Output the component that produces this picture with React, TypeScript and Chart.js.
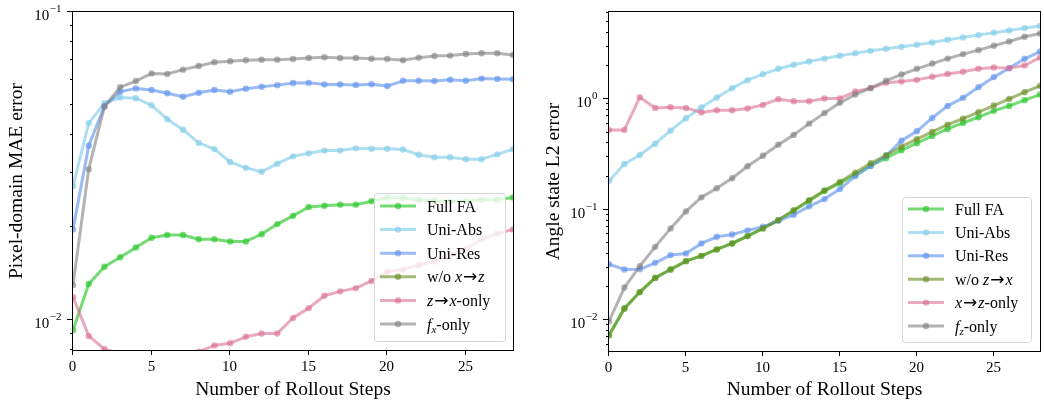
import React, { useEffect, useRef } from "react";
import { Chart, registerables } from "chart.js";

Chart.register(...registerables);

// ---------------- data ----------------
const steps = [0, 1, 2, 3, 4, 5, 6, 7, 8, 9, 10, 11, 12, 13, 14, 15, 16, 17, 18, 19, 20, 21, 22, 23, 24, 25, 26, 27, 28];

// Left panel: Pixel-domain MAE error
const pixFullFA = [0.00928, 0.0131, 0.0149, 0.016, 0.0172, 0.0185, 0.0189, 0.0189, 0.0183, 0.0183, 0.018, 0.018, 0.019, 0.0205, 0.0218, 0.0233, 0.0235, 0.0237, 0.0237, 0.0243, 0.025, 0.0249, 0.0246, 0.0244, 0.0243, 0.0243, 0.0246, 0.0246, 0.025];
const pixUniAbs = [0.0272, 0.0436, 0.0506, 0.0528, 0.0525, 0.0498, 0.0449, 0.0415, 0.0376, 0.0359, 0.0326, 0.0312, 0.0303, 0.0322, 0.034, 0.0348, 0.0355, 0.0355, 0.0361, 0.036, 0.036, 0.0358, 0.0344, 0.0338, 0.0338, 0.0333, 0.0333, 0.0345, 0.0359];
const pixUniRes = [0.0197, 0.0368, 0.0495, 0.0551, 0.0565, 0.0558, 0.0545, 0.0531, 0.0547, 0.0558, 0.0551, 0.0564, 0.0572, 0.0579, 0.0588, 0.0589, 0.0582, 0.0582, 0.058, 0.0583, 0.0575, 0.0598, 0.0598, 0.0597, 0.0603, 0.0598, 0.0608, 0.0606, 0.0605];
const pixWoXZ: (number | null)[] = [null, null, null, null, null, null, null, null, null, null, null, null, null, null, null, null, null, null, null, null, null, null, null, null, null, null, null, null, null];
const pixZXOnly = [0.0119, 0.00889, 0.00805, 0.0078, 0.0076, 0.0075, 0.0075, 0.0076, 0.0079, 0.00828, 0.00842, 0.00883, 0.00905, 0.00905, 0.01017, 0.01094, 0.012, 0.0124, 0.0127, 0.0134, 0.01436, 0.0146, 0.0151, 0.0155, 0.0163, 0.017, 0.0183, 0.0191, 0.0197];
const pixFxOnly = [0.013, 0.0309, 0.0493, 0.057, 0.0597, 0.0632, 0.0629, 0.065, 0.0668, 0.0687, 0.0692, 0.0697, 0.07, 0.07, 0.0704, 0.0709, 0.0713, 0.0709, 0.0709, 0.0705, 0.0704, 0.0697, 0.0711, 0.072, 0.0722, 0.0731, 0.0735, 0.0735, 0.0725];

// Right panel: Angle state L2 error
const angFullFA = [0.0073, 0.0128, 0.018, 0.0242, 0.0288, 0.0343, 0.0383, 0.0438, 0.0496, 0.0578, 0.0679, 0.0807, 0.098, 0.121, 0.148, 0.174, 0.207, 0.251, 0.293, 0.346, 0.401, 0.467, 0.54, 0.612, 0.689, 0.787, 0.873, 0.983, 1.106];
const angUniAbs = [0.182, 0.26, 0.314, 0.397, 0.521, 0.675, 0.843, 1.039, 1.263, 1.493, 1.692, 1.891, 2.055, 2.2, 2.34, 2.48, 2.62, 2.75, 2.87, 2.99, 3.12, 3.27, 3.46, 3.64, 3.82, 4.01, 4.21, 4.42, 4.61];
const angUniRes = [0.0322, 0.0288, 0.0289, 0.0331, 0.0389, 0.0403, 0.0496, 0.057, 0.0598, 0.0651, 0.0702, 0.0796, 0.0902, 0.1075, 0.125, 0.154, 0.202, 0.249, 0.309, 0.423, 0.514, 0.679, 0.873, 1.032, 1.29, 1.59, 1.918, 2.33, 2.71];
const angWoZX = [0.0073, 0.0128, 0.018, 0.0242, 0.0288, 0.0343, 0.0383, 0.0438, 0.0496, 0.0578, 0.0679, 0.0807, 0.099, 0.122, 0.15, 0.179, 0.217, 0.264, 0.312, 0.373, 0.436, 0.507, 0.591, 0.67, 0.765, 0.879, 1.01, 1.162, 1.326];
const angXZOnly = [0.529, 0.529, 1.047, 0.837, 0.849, 0.837, 0.76, 0.798, 0.798, 0.826, 0.891, 1.004, 0.962, 0.962, 1.017, 1.02, 1.177, 1.263, 1.411, 1.451, 1.502, 1.6, 1.7, 1.776, 1.891, 1.944, 1.918, 2.026, 2.39];
const angFzOnly = [0.0098, 0.0198, 0.0309, 0.0462, 0.0679, 0.0968, 0.1297, 0.157, 0.193, 0.248, 0.309, 0.389, 0.477, 0.603, 0.754, 0.93, 1.106, 1.271, 1.472, 1.68, 1.891, 2.11, 2.34, 2.57, 2.79, 3.06, 3.34, 3.69, 3.95];

// ticks
const xTicks = [0, 5, 10, 15, 20, 25];
const leftYMajor = [0.01, 0.1];
const leftYMajorExp = ["\u22122", "\u22121"];
const leftYMinor = [0.008, 0.009, 0.02, 0.03, 0.04, 0.05, 0.06, 0.07, 0.08, 0.09];
const rightYMajor = [0.01, 0.1, 1];
const rightYMajorExp = ["\u22122", "\u22121", "0"];
const rightYMinor = [0.006, 0.007, 0.008, 0.009, 0.02, 0.03, 0.04, 0.05, 0.06, 0.07, 0.08, 0.09, 0.2, 0.3, 0.4, 0.5, 0.6, 0.7, 0.8, 0.9, 2, 3, 4, 5, 6];

// titles
const xTitle = "Number of Rollout Steps";
const leftYTitle = "Pixel-domain MAE error";
const rightYTitle = "Angle state L2 error";

// legend labels (segments: plain / italic / italic subscript / arrow)
type Seg = { t: string; it?: boolean; sub?: boolean; arrow?: boolean };
const AR: Seg = { t: "\u2192", arrow: true };
const leftLabels: Seg[][] = [
  [{ t: "Full FA" }],
  [{ t: "Uni-Abs" }],
  [{ t: "Uni-Res" }],
  [{ t: "w/o " }, { t: "x", it: true }, AR, { t: "z", it: true }],
  [{ t: "z", it: true }, AR, { t: "x", it: true }, { t: "-only" }],
  [{ t: "f", it: true }, { t: "x", it: true, sub: true }, { t: "-only" }],
];
const rightLabels: Seg[][] = [
  [{ t: "Full FA" }],
  [{ t: "Uni-Abs" }],
  [{ t: "Uni-Res" }],
  [{ t: "w/o " }, { t: "z", it: true }, AR, { t: "x", it: true }],
  [{ t: "x", it: true }, AR, { t: "z", it: true }, { t: "-only" }],
  [{ t: "f", it: true }, { t: "z", it: true, sub: true }, { t: "-only" }],
];

// ---------------- styles ----------------
const COLORS = [
  "rgba(50,200,50,0.68)",
  "rgba(135,206,235,0.68)",
  "rgba(100,149,237,0.65)",
  "rgba(107,142,35,0.62)",
  "rgba(219,112,147,0.6)",
  "rgba(128,128,128,0.6)",
];
const FONT = '"Liberation Serif", "Times New Roman", "DejaVu Serif", serif';

type PanelSpec = {
  series: (number | null)[][];
  labels: Seg[][];
  yMin: number;
  yMax: number;
  yMajor: number[];
  yMajorExp: string[];
  yMinor: number[];
  yTitle: string;
  yTitleX: number;
  padding: { left: number; right: number; top: number; bottom: number };
  legend: { width: number; height: number; right: number; bottom: number; first: number; spacing: number };
};

function drawSegs(ctx: CanvasRenderingContext2D, segs: Seg[], x: number, y: number) {
  let cx = x;
  for (const s of segs) {
    if (s.arrow) {
      ctx.font = `17px "DejaVu Sans", sans-serif`;
      cx += 1;
      ctx.fillText(s.t, cx, y);
      cx += ctx.measureText(s.t).width + 1;
      continue;
    }
    const size = s.sub ? 11 : 16;
    ctx.font = `${s.it ? "italic " : ""}${size}px ${FONT}`;
    ctx.fillText(s.t, cx, y + (s.sub ? 3 : 0));
    cx += ctx.measureText(s.t).width;
  }
}

function makePlugin(spec: PanelSpec) {
  return {
    id: "mplAxes",
    afterDraw(chart: any) {
      const ctx: CanvasRenderingContext2D = chart.ctx;
      const a = chart.chartArea;
      const xs = chart.scales.x;
      const ys = chart.scales.y;
      ctx.save();
      ctx.strokeStyle = "#000";
      ctx.fillStyle = "#000";
      ctx.lineWidth = 1;
      // frame
      ctx.strokeRect(Math.round(a.left) - 0.5, Math.round(a.top) - 0.5, Math.round(a.right - a.left) + 1, Math.round(a.bottom - a.top) + 1);
      // x ticks
      ctx.font = `15px ${FONT}`;
      ctx.textAlign = "center";
      ctx.textBaseline = "alphabetic";
      for (const v of xTicks) {
        const px = Math.round(xs.getPixelForValue(v)) - 0.5;
        ctx.beginPath();
        ctx.moveTo(px, a.bottom);
        ctx.lineTo(px, a.bottom + 5);
        ctx.stroke();
        ctx.fillText(String(v), px, a.bottom + 21);
      }
      // y minor ticks
      for (const v of spec.yMinor) {
        const py = Math.round(ys.getPixelForValue(v)) - 0.5;
        ctx.beginPath();
        ctx.moveTo(a.left - 3, py);
        ctx.lineTo(a.left, py);
        ctx.stroke();
      }
      // y major ticks + labels
      spec.yMajor.forEach((v, i) => {
        const py = Math.round(ys.getPixelForValue(v)) - 0.5;
        ctx.beginPath();
        ctx.moveTo(a.left - 6, py);
        ctx.lineTo(a.left, py);
        ctx.stroke();
        const exp = spec.yMajorExp[i];
        ctx.textAlign = "left";
        ctx.font = `11px ${FONT}`;
        const ew = ctx.measureText(exp).width;
        ctx.font = `15px ${FONT}`;
        const bw = ctx.measureText("10").width;
        const right = a.left - 12;
        const x0 = right - ew - bw;
        ctx.fillText("10", x0, py + 8);
        ctx.font = `11px ${FONT}`;
        ctx.fillText(exp, x0 + bw + 0.5, py);
      });
      // x title
      ctx.font = `19.5px ${FONT}`;
      ctx.textAlign = "center";
      ctx.fillText(xTitle, (a.left + a.right) / 2, 395);
      // y title
      ctx.save();
      ctx.translate(spec.yTitleX, (a.top + a.bottom) / 2);
      ctx.rotate(-Math.PI / 2);
      ctx.fillText(spec.yTitle, 0, 0);
      ctx.restore();
      // legend
      const L = spec.legend;
      const bx = a.right - L.right - L.width;
      const by = a.bottom - L.bottom - L.height;
      ctx.beginPath();
      if ((ctx as any).roundRect) (ctx as any).roundRect(bx + 0.5, by + 0.5, L.width, L.height, 3);
      else ctx.rect(bx + 0.5, by + 0.5, L.width, L.height);
      ctx.fillStyle = "rgba(255,255,255,0.8)";
      ctx.fill();
      ctx.strokeStyle = "#d6d6d6";
      ctx.stroke();
      ctx.textAlign = "left";
      spec.labels.forEach((segs, i) => {
        const cy = by + L.first + i * L.spacing;
        ctx.strokeStyle = COLORS[i];
        ctx.lineWidth = 3;
        ctx.beginPath();
        ctx.moveTo(bx + 6, cy);
        ctx.lineTo(bx + 42, cy);
        ctx.stroke();
        ctx.fillStyle = COLORS[i];
        ctx.beginPath();
        ctx.arc(bx + 24, cy, 3.2, 0, Math.PI * 2);
        ctx.fill();
        ctx.fillStyle = "#000";
        drawSegs(ctx, segs, bx + 53, cy + 5.5);
      });
      ctx.restore();
    },
  };
}

const leftSpec: PanelSpec = {
  series: [pixFullFA, pixUniAbs, pixUniRes, pixWoXZ, pixZXOnly, pixFxOnly],
  labels: leftLabels,
  yMin: 0.008,
  yMax: 0.1,
  yMajor: leftYMajor,
  yMajorExp: leftYMajorExp,
  yMinor: leftYMinor,
  yTitle: leftYTitle,
  yTitleX: 22,
  padding: { left: 73, right: 12, top: 12, bottom: 53 },
  legend: { width: 131, height: 148, right: 8, bottom: 9, first: 13, spacing: 23.6 },
};

const rightSpec: PanelSpec = {
  series: [angFullFA, angUniAbs, angUniRes, angWoZX, angXZOnly, angFzOnly],
  labels: rightLabels,
  yMin: 0.00527,
  yMax: 6.18,
  yMajor: rightYMajor,
  yMajorExp: rightYMajorExp,
  yMinor: rightYMinor,
  yTitle: rightYTitle,
  yTitleX: 34,
  padding: { left: 84, right: 2, top: 12, bottom: 52 },
  legend: { width: 129, height: 145, right: 9, bottom: 9, first: 12, spacing: 23.4 },
};

function Panel({ spec, left, width }: { spec: PanelSpec; left: number; width: number }) {
  const ref = useRef<HTMLCanvasElement | null>(null);
  useEffect(() => {
    if (!ref.current) return;
    const n = spec.series.length;
    const chart = new Chart(ref.current, {
      type: "line",
      data: {
        datasets: spec.series.map((vals, i) => ({
          label: spec.labels[i].map((s) => s.t).join(""),
          data: steps.map((x, j) => ({ x, y: vals[j] })),
          borderColor: COLORS[i],
          backgroundColor: COLORS[i],
          pointBackgroundColor: COLORS[i],
          pointBorderWidth: 0,
          pointRadius: 3.2,
          borderWidth: 3,
          borderJoinStyle: "round",
          tension: 0,
          clip: 0,
          order: n - i,
          fill: false,
        })),
      } as any,
      options: {
        responsive: false,
        animation: false,
        devicePixelRatio: 1,
        events: [],
        layout: { padding: spec.padding },
        scales: {
          x: { type: "linear", min: 0, max: 28, display: false },
          y: { type: "logarithmic", min: spec.yMin, max: spec.yMax, display: false },
        },
        plugins: { legend: { display: false }, tooltip: { enabled: false } },
      } as any,
      plugins: [makePlugin(spec)],
    });
    return () => chart.destroy();
  }, [spec]);
  return (
    <canvas
      ref={ref}
      width={width}
      height={403}
      style={{ position: "absolute", left, top: 0, width, height: 403 }}
    />
  );
}

export default function App() {
  return (
    <div style={{ position: "absolute", left: 0, top: 0, width: 1044, height: 403, background: "#fff" }}>
      <Panel spec={leftSpec} left={0} width={525} />
      <Panel spec={rightSpec} left={525} width={519} />
    </div>
  );
}
